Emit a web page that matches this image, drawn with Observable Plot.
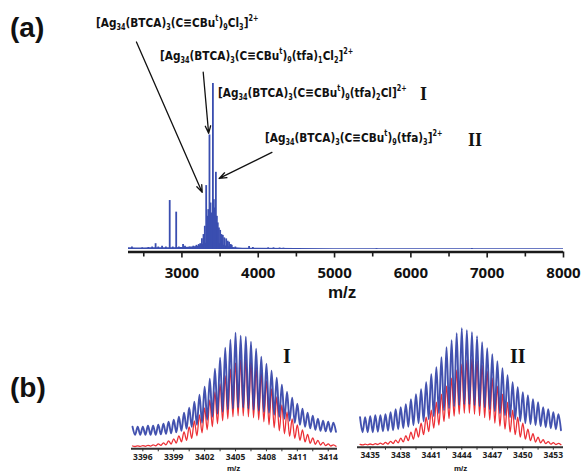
<!DOCTYPE html>
<html><head><meta charset="utf-8">
<script src="https://cdn.jsdelivr.net/npm/d3@7"></script>
<script src="https://cdn.jsdelivr.net/npm/@observablehq/plot@0.6"></script>
<style>
html,body{margin:0;padding:0;background:#fff;}
#root{position:relative;width:582px;height:473px;background:#fff;font-family:"Liberation Sans",Arial,sans-serif;overflow:hidden;}
#root svg{position:absolute;}
#root svg text{font-weight:700;}
.lab{position:absolute;white-space:nowrap;font-family:"Liberation Sans Narrow","DejaVu Sans Condensed","Liberation Sans",sans-serif;font-weight:700;font-size:13px;line-height:13px;color:#111;transform:scaleX(0.9);transform-origin:0 50%;}
.lab sub,.lab sup{font-size:8px;line-height:0;}
.lab sub{vertical-align:-3px;}
.lab sup{vertical-align:6px;}
.rom{position:absolute;font-family:"Liberation Serif","DejaVu Serif",serif;font-weight:700;color:#111;line-height:1;}
.pl{position:absolute;font-family:"Liberation Sans",Arial,sans-serif;font-weight:700;color:#111;line-height:1;}
</style></head>
<body><div id="root"></div>
<script>
// ---------- Panel (a): full spectrum ----------
const peakMz  = [2345,2480,2560,2610,2655,2690,2740,2790,2840,2880,2925,2960,3015,3040,3100,3150,3190,3220,3240,3262,3283,3300,3318,3330,3345,3361,3375,3390,3406,3418,3432,3445,3458,3470,3485,3501,3518,3536,3555,3580,3600,3618,3640,3653,3700,3880,3930,4130,4200,4280,4330,5550,6800];
const peakInt = [1.5,1.0,1.2,1.5,3.5,1.5,2.0,1.5,29.5,1.5,22.5,1.5,3.0,2.0,1.5,2.0,2.5,3.0,3.5,6.5,9,14,38.5,20,24,69,28,22,100,30,25,46.5,20,16,13,11.5,9,8.5,7,6.4,5,4.4,3,2.5,1.5,1.8,1.2,1.0,1.0,0.9,0.8,0.5,0.6];
const baseMz  = [2300,2400,2500,2600,2700,2800,2900,3000,3100,3200,3250,3300,3350,3400,3450,3500,3550,3600,3650,3700,3800,4000,4500,5000,6000,7000,8000];
const baseInt = [1.0,0.9,0.9,1.0,1.0,1.0,1.1,1.2,1.3,1.8,2.5,3.5,4.5,5,4.5,3.5,2.5,1.8,1.3,1.0,0.8,0.7,0.6,0.5,0.5,0.5,0.5];
const ticksA = [3000,4000,5000,6000,7000,8000];
const minorA = [2500,3500,4500,5500,6500,7500];

// annotation arrows (data units: m/z, intensity)
const arrowFromMz = [2404,3279,4179];
const arrowFromI  = [125,106.8,58.5];
const arrowToMz   = [3266,3350,3488];
const arrowToI    = [34.4,70,42.8];

// ---------- Panel (b): isotope patterns ----------
const posI = [3395,3395.5,3396,3396.5,3397,3397.5,3398,3398.5,3399,3399.5,3400,3400.5,3401,3401.5,3402,3402.5,3403,3403.5,3404,3404.5,3405,3405.5,3406,3406.5,3407,3407.5,3408,3408.5,3409,3409.5,3410,3410.5,3411,3411.5,3412,3412.5,3413,3413.5,3414,3414.5];
const bluePeakI   = [20,20,20,21,21,22,23,25,27,30,34,39,45,52,60,68,78,89,99,107,114,111,110,105,98,90,83,76,69,62,55,49,43,38,34,31,28,26,25,24];
const blueTroughI = [12,12,12,12,12,12.5,13,13.5,14.5,16,18,20,22,24,27,30,33,35,37,38,39,39,38,37,36,35,34,32,30,28,26,24,22,20,18.5,17,16,15.5,15,15];
const redPeakI    = [0.8,1,1.2,1.5,2,3,4,6,8,11,15,20,26,32,39,47,55,63,71,78,84,87,87,84,79,73,66,58,50,42,35,28,22,17,12.5,9,6.5,4.5,3,2];
const redTroughI  = [0.3,0.4,0.5,0.7,1,1.4,2,2.8,3.8,5,6.5,8.5,11,14,17,20,23,26,28,30,31,31,30,29,27,25,22,19,16,13,10.5,8.5,6.5,5,3.5,2.5,1.8,1.2,0.8,0.5];

const posII = [3434,3434.5,3435,3435.5,3436,3436.5,3437,3437.5,3438,3438.5,3439,3439.5,3440,3440.5,3441,3441.5,3442,3442.5,3443,3443.5,3444,3444.5,3445,3445.5,3446,3446.5,3447,3447.5,3448,3448.5,3449,3449.5,3450,3450.5,3451,3451.5,3452,3452.5,3453,3453.5];
const bluePeakII   = [28,28,29,30,30,31,33,36,38,41,46,51,56,63,71,78,88,98,105,112,117,115,113,109,103,97,91,84,77,70,63,58,53,50,46,43,38,36,33,31];
const blueTroughII = [13,13,13,13.5,14,14.5,15,16,17,18.5,20,22,24,26,29,32,35,37,39,40,41,41,40,39,38,36,34,32,30,28,26,24,22,21,20,19,18,17,16,15];
const redPeakII    = [0.8,1,1.2,1.5,2,2.8,3.8,5,7,9.5,13,17,22,28,35,43,51,59,67,75,81,85,86,84,80,74,67,59,51,43,35,28,22,16,11.5,8,5.5,3.5,2.5,1.8];
const redTroughII  = [0.3,0.4,0.5,0.7,0.9,1.2,1.7,2.4,3.3,4.5,6,8,10.5,13.5,17,20,23.5,26.5,29,31,32,32,31,29.5,27.5,25,22,19,16,13,10.5,8,6,4.5,3.2,2.3,1.6,1.1,0.7,0.5];

const ticksI  = [3396,3399,3402,3405,3408,3411,3414];
const minorI  = [3397.5,3400.5,3403.5,3406.5,3409.5,3412.5];
const ticksII = [3435,3438,3441,3444,3447,3450,3453];
const minorII = [3436.5,3439.5,3442.5,3445.5,3448.5,3451.5];

const BLUE_A = "#3a4eb0";
const BLUE = "#2f3fa6";
const RED = "#ec3036";
const AXIS = "#1a1a1a";

const root = document.getElementById("root");
function place(svg, left, top){ svg.style.left = left+"px"; svg.style.top = top+"px"; root.appendChild(svg); }
function html(cls, text, left, top, size){ const d=document.createElement("div"); d.className=cls; d.innerHTML=text; d.style.left=left+"px"; d.style.top=top+"px"; if(size) d.style.fontSize=size+"px"; root.appendChild(d); return d; }

// Panel (a)
const peaks = peakMz.map((m,i)=>({mz:m, v:peakInt[i]}));
const base = baseMz.map((m,i)=>({mz:m, v:baseInt[i]}));
const arrows = arrowFromMz.map((m,i)=>({x1:m,y1:arrowFromI[i],x2:arrowToMz[i],y2:arrowToI[i]}));
const plotA = Plot.plot({
  width:582, height:300,
  marginLeft:128, marginRight:19, marginTop:83, marginBottom:48.5,
  x:{domain:[2300,8000]}, y:{domain:[-1.5,100], axis:null},
  style:{background:"transparent", overflow:"visible"},
  marks:[
    Plot.areaY(base,{x:"mz", y1:0, y2:"v", fill:BLUE_A}),
    Plot.ruleX(peaks,{x:"mz", y1:0, y2:"v", stroke:BLUE_A, strokeWidth:1.8}),
    Plot.ruleY([-1.5],{stroke:AXIS, strokeWidth:2.6}),
    Plot.axisX({ticks:minorA, tickSize:5, tickFormat:()=>"", stroke:AXIS, strokeWidth:1.6, label:null}),
    Plot.axisX({ticks:ticksA, tickSize:6, tickPadding:9, stroke:AXIS, strokeWidth:1.6, fontSize:15, fontWeight:"bold", fill:"#111", tickFormat:d=>String(d), label:null}),
    Plot.arrow(arrows,{x1:"x1",y1:"y1",x2:"x2",y2:"y2", stroke:"#111", strokeWidth:1.3, headLength:9, headAngle:40})
  ]
});
place(plotA,0,0);

// Panel (b)
function zig(pos, pk, tr){ const out=[]; pos.forEach((p,i)=>{ out.push({x:p, y:pk[i]}); out.push({x:p+0.25, y:tr[i]}); }); return out; }
function panelB(pos, bp, bt, rp, rt, dom, ticks, minor, w, mL, mR, mB){
  return Plot.plot({
    width:w, height:173, marginLeft:mL, marginRight:mR, marginTop:18, marginBottom:mB,
    x:{domain:dom}, y:{domain:[-2, 173-18-mB-2], axis:null},
    style:{background:"transparent", overflow:"visible"},
    marks:[
      Plot.line(zig(pos,rp,rt),{x:"x", y:"y", stroke:RED, strokeWidth:1.3, curve:"monotone-x"}),
      Plot.line(zig(pos,bp,bt),{x:"x", y:"y", stroke:BLUE, strokeWidth:1.9, strokeOpacity:0.9, curve:"monotone-x"}),
      Plot.ruleY([-2],{stroke:"#333", strokeWidth:2}),
      Plot.axisX({ticks:minor, tickSize:3, tickFormat:()=>"", stroke:"#333", label:null}),
      Plot.axisX({ticks:ticks, tickSize:3, tickPadding:2, stroke:"#333", fontSize:8.5, fontWeight:"bold", fill:"#222", tickFormat:d=>String(d), label:null})
    ]
  });
}
place(panelB(posI,bluePeakI,blueTroughI,redPeakI,redTroughI,[3394.9,3414.9],ticksI,minorI,350,131,13,24.7),0,300);
place(panelB(posII,bluePeakII,blueTroughII,redPeakII,redTroughII,[3433.75,3454.0],ticksII,minorII,242,17,19,26.3),340,300);

// Text
html("pl","(a)",10,14,28);
html("pl","(b)",10,374,28);
html("pl","m/z",328,284,17);
html("pl","m/z",227,464.5,8);
html("pl","m/z",454,464.5,8);
html("lab","[Ag<sub>34</sub>(BTCA)<sub>3</sub>(C≡CBu<sup>t</sup>)<sub>9</sub>Cl<sub>3</sub>]<sup>2+</sup>",96,16);
html("lab","[Ag<sub>34</sub>(BTCA)<sub>3</sub>(C≡CBu<sup>t</sup>)<sub>9</sub>(tfa)<sub>1</sub>Cl<sub>2</sub>]<sup>2+</sup>",160,49);
html("lab","[Ag<sub>34</sub>(BTCA)<sub>3</sub>(C≡CBu<sup>t</sup>)<sub>9</sub>(tfa)<sub>2</sub>Cl]<sup>2+</sup>",218,86);
html("lab","[Ag<sub>34</sub>(BTCA)<sub>3</sub>(C≡CBu<sup>t</sup>)<sub>9</sub>(tfa)<sub>3</sub>]<sup>2+</sup>",265,131);
html("rom","I",420,85,18);
html("rom","II",468,131,18);
html("rom","I",283,346,20);
html("rom","II",510,346,20);
</script></body></html>
